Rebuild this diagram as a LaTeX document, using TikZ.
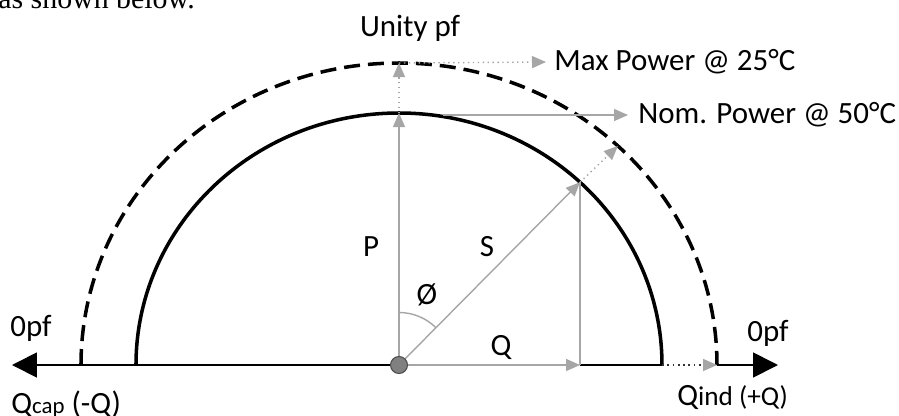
\documentclass[tikz,border=0pt]{standalone}
\usepackage{fontspec}
\setmainfont{Carlito}
\newfontfamily\serifintro{Liberation Serif}
\usetikzlibrary{arrows.meta}
\tikzset{vec/.style={-{Triangle[length=2.8mm,width=2.4mm]},line width=.8pt,black!35},
         dotvec/.style={vec,dotted},
         dotaxis/.style={-{Triangle[length=2.8mm,width=2.4mm,color=black!35]},dotted,line width=1pt,black!80},
         axis/.style={-{Triangle[length=5mm,width=5mm]},line width=1pt,black},
         curve/.style={line width=2pt,black},
         lbl/.style={font=\fontsize{17.6}{20}\selectfont,inner sep=0pt}}

\begin{document}
\begin{tikzpicture}
  \useasboundingbox (-7.98,-1.0) rectangle (10.0,7.3);
  \node[anchor=base west,inner sep=0pt,font=\serifintro\fontsize{17}{20}\selectfont]
    (intro) at (-8.02,7.13) {as shown below.};
  % points on the axis and on the two curves
  \coordinate (o) at (0,0);
  \coordinate (capend) at (-7.74,0);
  \coordinate (indend) at (7.58,0);
  \coordinate (inl) at (-5.26,0);
  \coordinate (inr) at (5.26,0);
  \coordinate (outl) at (-6.36,0);
  \coordinate (outr) at (6.36,0);
  \coordinate (ptop) at (0,5.04);
  \coordinate (pmax) at (0,6.04);
  \coordinate (snom) at (46.5:5.26cm and 5.04cm);
  \coordinate (smax) at (46.5:6.36cm and 6.04cm);
  \coordinate (qend) at (snom |- o);
  \coordinate (arcbeg) at (0,1.05);
  % rating curves
  \draw[curve] (inl) arc[start angle=180,end angle=0,x radius=5.26,y radius=5.04];
  \draw[curve,dash pattern=on 0.32cm off 0.16cm]
    (outl) arc[start angle=180,end angle=0,x radius=6.36,y radius=6.04];
  % reactive power axis
  \draw[axis] (o) -- (capend);
  \draw[axis,-] (qend) -- (inr);
  \draw[dotaxis] (inr) -- (outr);
  \draw[axis] (outr) -- (indend);
  % phasors
  \draw[vec] (o) -- (ptop);
  \draw[dotvec] (ptop) -- (pmax);
  \draw[vec] (o) -- (snom);
  \draw[dotvec] (snom) -- (smax);
  \draw[vec] (o) -- (qend);
  \draw[black!35,line width=.8pt] (snom) -- (qend);
  \draw[black!35,line width=.8pt] (arcbeg) arc[start angle=90,end angle=45.3,radius=1.05];
  % labels
  \node[lbl] (unity) at (0.22,6.74) {Unity pf};
  \node[lbl,anchor=west] (maxlbl) at (3.1,6.06) {Max Power @ 25°C};
  \node[lbl,anchor=west] (nomlbl) at (4.78,5.0) {Nom. Power @ 50°C};
  \coordinate (nomstart) at (0.88,5.0);
  \draw[vec] (nomstart) -- ([xshift=-2mm]nomlbl.west);
  \draw[dotvec] (pmax) -- ([xshift=-1.6mm]maxlbl.west);
  \node[lbl] (plbl) at (-0.56,2.36) {P};
  \node[lbl] (slbl) at (1.76,2.36) {S};
  \node[lbl] (philbl) at (0.56,1.4) {Ø};
  \node[lbl] (qlbl) at (2.04,0.34) {Q};
  \node[lbl] (pfcap) at (-7.36,0.74) {0pf};
  \node[lbl] (pfind) at (7.38,0.64) {0pf};
  \node[lbl,anchor=west] (qcap) at (-7.76,-0.78)
    {Q{\fontsize{13}{14}\selectfont cap} (-Q)};
  \node[lbl,anchor=west] (qind) at (5.56,-0.66)
    {Q{\fontsize{15.5}{16}\selectfont ind (+Q)}};
  % origin
  \node[circle,fill=black!50,draw=black!70,line width=.6pt,minimum size=0.34cm,inner sep=0pt]
    (dot) at (o) {};
\end{tikzpicture}
\end{document}
